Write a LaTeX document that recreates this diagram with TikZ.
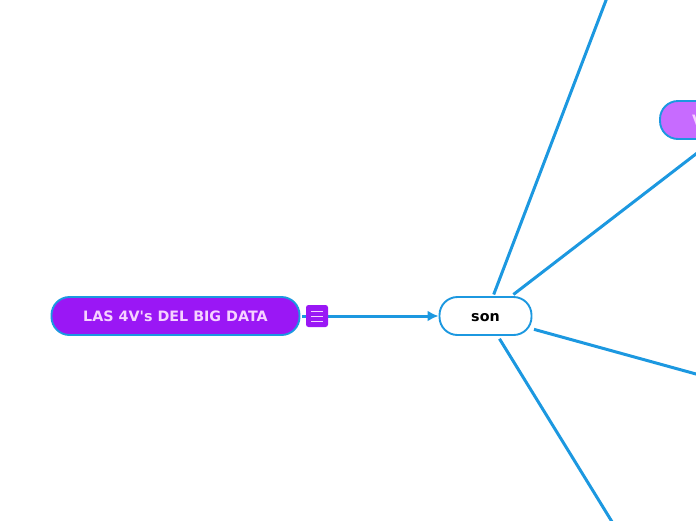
\documentclass[tikz,border=0pt]{standalone}
\usepackage{fontspec}
\usetikzlibrary{calc,arrows.meta}
\setmainfont{DejaVu Sans}
\definecolor{linkblue}{HTML}{1C98E0}
\definecolor{rootpurple}{HTML}{9A17F5}
\definecolor{rootpink}{HTML}{F6D2FF}
\definecolor{leafpurple}{HTML}{C76BFF}
\tikzset{
  TopicStyle/.style={draw=linkblue,line width=1.9pt,rounded corners=18pt,minimum height=38pt,inner sep=0pt,outer sep=2.5pt,text height=10.5pt,text depth=0pt,font=\fontsize{14.3}{17}\selectfont\bfseries},
  LinkStyle/.style={draw=linkblue,line width=3pt},
  MenuStyle/.style={draw=rootpink,line width=1pt}
}
\begin{document}
\begin{tikzpicture}[x=1pt,y=-1pt]
            \useasboundingbox (0,0) rectangle (696,520);
            \clip (0,0) rectangle (696,520);

            \coordinate (top_end) at (608,-5);
            \coordinate (right_end) at (700,375.1);
            \coordinate (bottom_end) at (614,525);

            \node[TopicStyle,fill=white,text=black,minimum width=92pt] (son) at (485.5,316){son};
            \node[TopicStyle,fill=rootpurple,text=rootpink,minimum width=248pt] (root) at (175.5,316){LAS 4V\textquotesingle s DEL BIG DATA};
            \node[TopicStyle,fill=leafpurple,text=rootpink,minimum width=160pt,text width=96pt,align=left,inner xsep=32pt] (leaf) at (740,120){V};

            \draw[LinkStyle,-{Latex[length=11pt,width=11pt]},shorten >=-1.5pt] (root) -- (son);
            \draw[LinkStyle] (son) -- (top_end);
            \draw[LinkStyle] (son) -- (leaf);
            \draw[LinkStyle] (son) -- (right_end);
            \draw[LinkStyle,shorten <=1.5pt] (son) -- (bottom_end);

            \node[fill=rootpurple,rounded corners=2.5pt,minimum size=22pt,inner sep=0pt] (menu) at (317,316){};
            \draw[MenuStyle] ($(menu.center)+(-6,-5)$) -- ++(12,0);
            \draw[MenuStyle] ($(menu.center)+(-6,0)$) -- ++(12,0);
            \draw[MenuStyle] ($(menu.center)+(-6,5)$) -- ++(12,0);
          \end{tikzpicture}
\end{document}
